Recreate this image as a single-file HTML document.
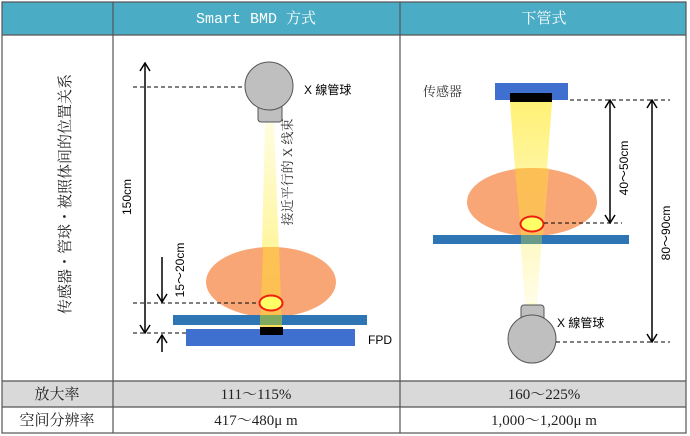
<!DOCTYPE html>
<html><head><meta charset="utf-8">
<style>html,body{margin:0;padding:0;background:#fff}svg{display:block}</style></head>
<body>
<svg width="690" height="436" viewBox="0 0 690 436" xmlns="http://www.w3.org/2000/svg">
<defs>
<linearGradient id="b1" x1="0" y1="0" x2="0" y2="1"><stop offset="0" stop-color="#fffde0"/><stop offset="1" stop-color="#fff176"/></linearGradient>
<linearGradient id="b2" x1="0" y1="0" x2="0" y2="1"><stop offset="0" stop-color="#fff176"/><stop offset="1" stop-color="#fffde8"/></linearGradient>
<marker id="ah" viewBox="0 0 12 12" refX="11" refY="6" markerWidth="12" markerHeight="12" orient="auto-start-reverse" markerUnits="userSpaceOnUse"><path d="M3,1 L11,6 L3,11" fill="none" stroke="#000" stroke-width="1.5"/></marker>
</defs>
<rect x="2" y="2" width="684" height="33" fill="#4bacc6"/>
<rect x="2" y="381" width="684" height="26" fill="#d9d9d9"/>
<g stroke="#555" stroke-width="1.2" fill="none">
<rect x="2" y="2" width="684" height="431"/>
<line x1="2" y1="35" x2="686" y2="35"/>
<line x1="2" y1="381" x2="686" y2="381"/>
<line x1="2" y1="407" x2="686" y2="407"/>
<line x1="113" y1="2" x2="113" y2="433"/>
<line x1="400" y1="2" x2="400" y2="433"/>
</g>
<g font-family="'Liberation Mono','Noto Serif CJK SC',serif" font-size="15" fill="#fff" text-anchor="middle">
<text x="256" y="23">Smart BMD 方式</text>
<text x="544" y="23">下管式</text>
</g>
<g font-family="'Liberation Serif','Noto Serif CJK SC',serif" font-size="15" fill="#222" text-anchor="middle">
<text x="57" y="399">放大率</text>
<text x="57" y="425">空间分辨率</text>
<text x="256" y="399">111～115%</text>
<text x="256" y="425">417～480μ m</text>
<text x="544" y="399">160～225%</text>
<text x="544" y="425">1,000～1,200μ m</text>
<text transform="translate(70,194) rotate(-90)" font-size="15">传感器・管球・被照体间的位置关系</text>
</g>
<polygon points="265,123 274,123 282,328 260,328" fill="url(#b1)"/>
<ellipse cx="271" cy="282" rx="65" ry="35" fill="#f7884a" fill-opacity="0.75"/>
<polygon points="263,247 279,247 282,328 260,328" fill="#ffd54f" fill-opacity="0.6"/>
<rect x="173" y="315" width="194" height="10" fill="#2e75b6"/>
<rect x="260" y="315" width="22" height="10" fill="#7fa860"/>
<rect x="186" y="329" width="169" height="17" fill="#3f6fcf"/>
<rect x="260" y="327" width="23" height="8" fill="#000"/>
<ellipse cx="271" cy="303" rx="11.5" ry="7.5" fill="#ffff66" stroke="#f02010" stroke-width="2"/>
<rect x="258" y="104" width="24" height="18" rx="3" fill="#bfbfbf" stroke="#555"/>
<circle cx="269" cy="86" r="24" fill="#bfbfbf" stroke="#555"/>
<g stroke="#000" stroke-width="1" stroke-dasharray="4,3">
<line x1="133" y1="87" x2="245" y2="87"/>
<line x1="133" y1="303" x2="259" y2="303"/>
<line x1="133" y1="333" x2="186" y2="333"/>
</g>
<g stroke="#000" stroke-width="1.5" fill="none">
<line x1="145" y1="63" x2="145" y2="333" marker-start="url(#ah)" marker-end="url(#ah)"/>
<line x1="162" y1="257" x2="162" y2="302" marker-end="url(#ah)"/>
<line x1="162" y1="352" x2="162" y2="335" marker-end="url(#ah)"/>
</g>
<g font-family="'Liberation Sans','Noto Sans CJK SC',sans-serif" font-size="12" fill="#000">
<text x="304" y="94">X 線管球</text>
<text x="368" y="344">FPD</text>
<text transform="translate(131,197) rotate(-90)" text-anchor="middle">150cm</text>
<text transform="translate(184,270) rotate(-90)" text-anchor="middle">15～20cm</text>
<text transform="translate(292,172) rotate(-90)" text-anchor="middle" font-family="'Liberation Serif','Noto Serif CJK SC',serif" font-size="13" fill="#333">接近平行的 X 线束</text>
</g>
<polygon points="510,102 552,102 537,303 525,303" fill="url(#b2)"/>
<polygon points="525,303 537,303 535,330 527,330" fill="#fffbd0"/>
<ellipse cx="532" cy="202" rx="65" ry="34" fill="#f7884a" fill-opacity="0.75"/>
<polygon points="515,168 549,168 543,236 521,236" fill="#ffd54f" fill-opacity="0.55"/>
<rect x="433" y="235" width="196" height="9" fill="#2e75b6"/>
<rect x="521" y="235" width="21" height="9" fill="#6a9a8a"/>
<ellipse cx="532" cy="224" rx="11.5" ry="7.5" fill="#ffff66" stroke="#f02010" stroke-width="2"/>
<rect x="495" y="83" width="73" height="17" fill="#3f6fcf"/>
<rect x="510" y="93" width="42" height="9" fill="#000"/>
<rect x="521" y="305" width="23" height="17" rx="3" fill="#bfbfbf" stroke="#555"/>
<circle cx="532" cy="339" r="24" fill="#bfbfbf" stroke="#555"/>
<g stroke="#000" stroke-width="1" stroke-dasharray="4,3">
<line x1="570" y1="100" x2="670" y2="100"/>
<line x1="544" y1="223" x2="622" y2="223"/>
<line x1="556" y1="342" x2="670" y2="342"/>
</g>
<g stroke="#000" stroke-width="1.5" fill="none">
<line x1="610" y1="100" x2="610" y2="223" marker-start="url(#ah)" marker-end="url(#ah)"/>
<line x1="652" y1="100" x2="652" y2="342" marker-start="url(#ah)" marker-end="url(#ah)"/>
</g>
<g font-family="'Liberation Sans','Noto Sans CJK SC',sans-serif" font-size="12" fill="#000">
<text x="557" y="327">X 線管球</text>
<text x="423" y="96" font-family="'Liberation Serif','Noto Serif CJK SC',serif" font-size="13" fill="#333">传感器</text>
<text transform="translate(628,168) rotate(-90)" text-anchor="middle">40～50cm</text>
<text transform="translate(670,233) rotate(-90)" text-anchor="middle">80～90cm</text>
</g>
</svg>
</body></html>
